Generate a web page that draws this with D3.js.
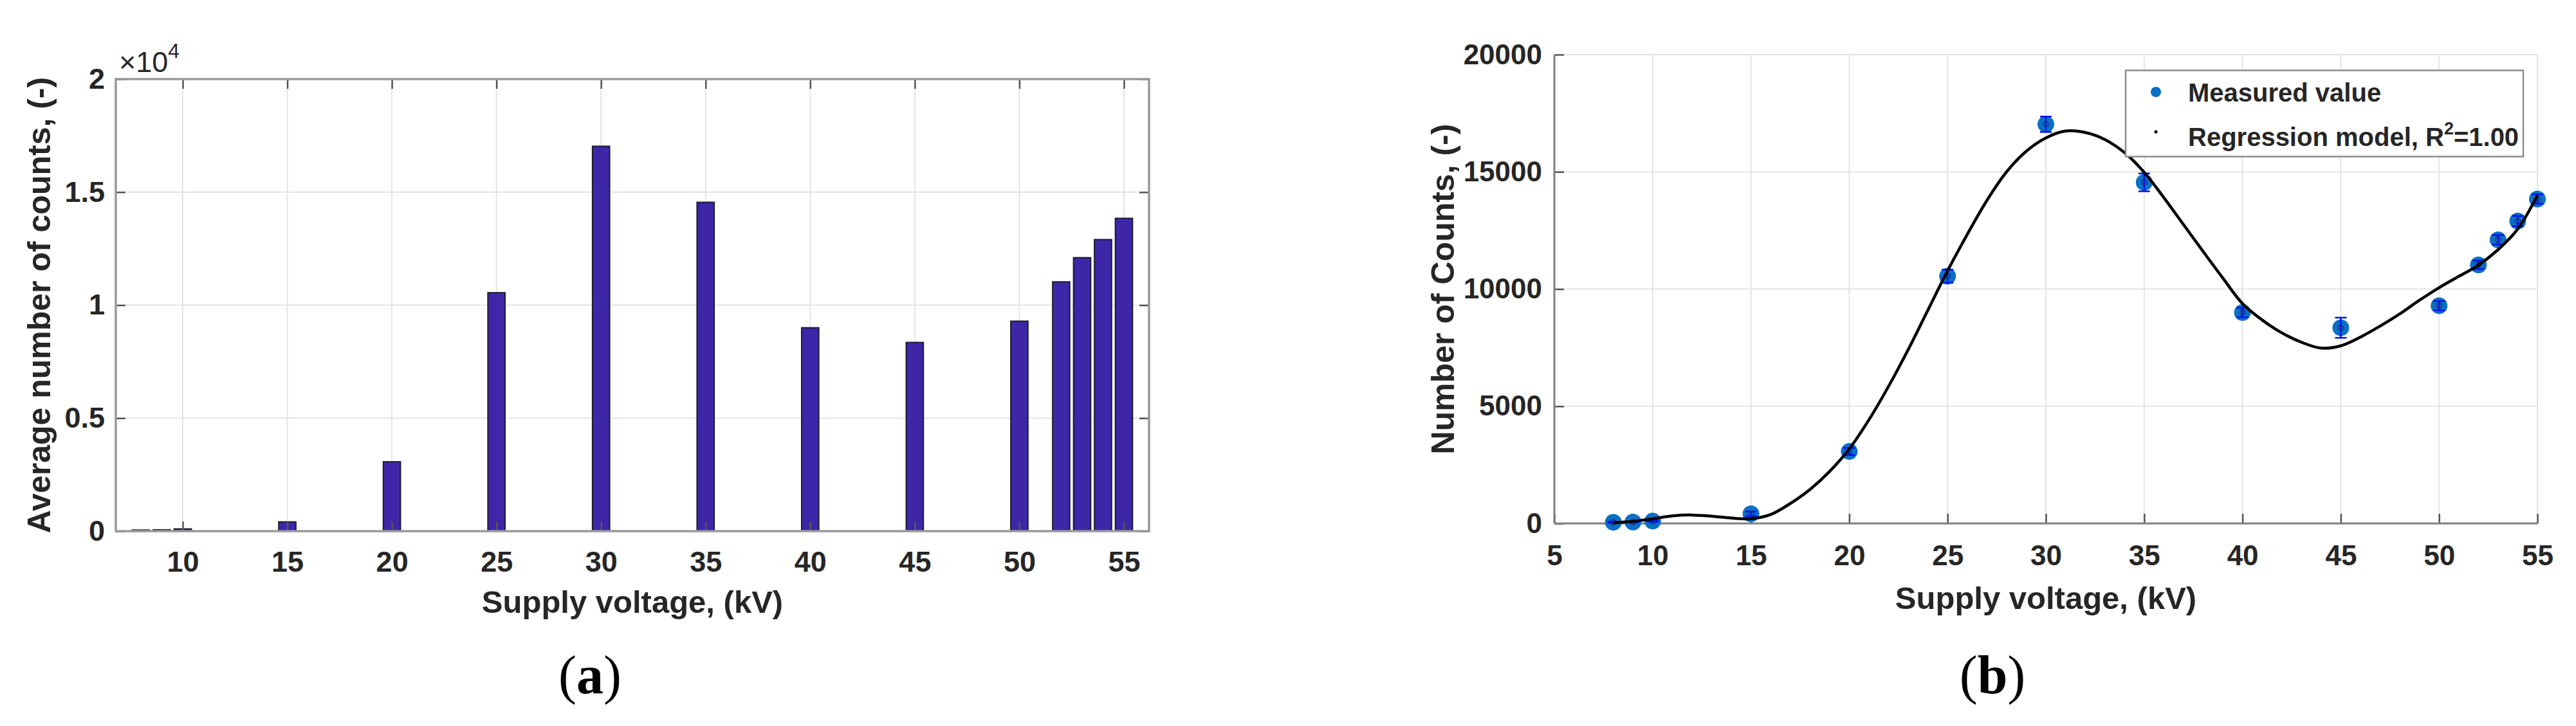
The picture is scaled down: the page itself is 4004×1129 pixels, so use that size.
<!DOCTYPE html>
<html lang="en">
<head>
<meta charset="UTF-8">
<title>Counts vs supply voltage</title>
<script src="https://d3js.org/d3.v7.min.js"></script>
<style>
    body { margin: 0; padding: 0; background: #fff; }
    svg { display: block; }
    .tick text { font-family: "Liberation Sans", Arial, sans-serif; font-weight: bold; fill: #262626; }
    .lbl { font-family: "Liberation Sans", Arial, sans-serif; font-weight: bold; fill: #262626; }
    .cap { font-family: "Liberation Serif", "Times New Roman", serif; fill: #000; }
</style>
</head>
<body>
<svg width="4004" height="1129"></svg>
<script>
// measured data (shared by both panels)
const voltages  = [8, 9, 10, 15, 20, 25, 30, 35, 40, 45, 50, 52, 53, 54, 55];
const avgCounts = [50, 60, 100, 410, 3070, 10550, 17030, 14550, 9000, 8350, 9290, 11030, 12100, 12900, 13840];
const countErr  = [20, 20, 30, 100, 150, 280, 330, 380, 200, 430, 200, 180, 200, 220, 200];

// regression curve
const fitVoltages = [8, 9, 10, 11, 12, 13, 14, 15, 16, 17, 18, 19, 20, 21, 22, 23, 24, 25, 26, 27, 28, 29, 30, 31,
                     32, 33, 34, 35, 36, 37, 38, 39, 40, 41, 42, 43, 44, 45, 46, 47, 48, 49, 50, 51, 52, 53, 54, 55];
const fitCounts = [30, 90, 200, 320, 360, 310, 230, 200, 380, 850, 1450, 2220, 3180, 4420, 5850, 7420, 9100, 10780,
                   12330, 13780, 15000, 15880, 16450, 16740, 16680, 16380, 15820, 14980, 13900, 12750, 11600, 10470,
                   9380, 8680, 8130, 7730, 7480, 7580, 7950, 8420, 8940, 9520, 10060, 10540, 11020, 11680, 12560, 14000];

// ticks
const barXTicks = [10, 15, 20, 25, 30, 35, 40, 45, 50, 55];
const barYTicks = [0, 5000, 10000, 15000, 20000];
const fitXTicks = [5, 10, 15, 20, 25, 30, 35, 40, 45, 50, 55];
const fitYTicks = [0, 5000, 10000, 15000, 20000];

const svg = d3.select("svg");

function styleTicks(sel, size) {
    sel.select(".domain").remove();
    sel.selectAll(".tick line").attr("stroke", "#555").attr("stroke-width", 2.5);
    sel.selectAll(".tick text").attr("font-size", size);
}

// ---------------- (a) bar chart ----------------
const A = {left: 180, right: 1786, top: 123, bottom: 826};
const xa = d3.scaleLinear().domain([6.8, 56.2]).range([A.left, A.right]);
const ya = d3.scaleLinear().domain([0, 20000]).range([A.bottom, A.top]);
const ga = svg.append("g");

ga.append("g").selectAll("line").data(barXTicks).join("line")
    .attr("x1", d => xa(d)).attr("x2", d => xa(d))
    .attr("y1", A.top).attr("y2", A.bottom)
    .attr("stroke", "#e4e4e4").attr("stroke-width", 2);
ga.append("g").selectAll("line").data(barYTicks.slice(1, -1)).join("line")
    .attr("x1", A.left).attr("x2", A.right)
    .attr("y1", d => ya(d)).attr("y2", d => ya(d))
    .attr("stroke", "#e4e4e4").attr("stroke-width", 2);

const bw = xa(0.82) - xa(0);
ga.append("g").selectAll("rect").data(voltages).join("rect")
    .attr("x", d => xa(d) - bw / 2)
    .attr("width", bw)
    .attr("y", (d, i) => ya(avgCounts[i]))
    .attr("height", (d, i) => ya(0) - ya(avgCounts[i]))
    .attr("fill", "#3E26A8")
    .attr("stroke", "#1c1c2e")
    .attr("stroke-width", 2);

ga.append("g").attr("transform", `translate(0,${A.bottom})`)
    .call(d3.axisBottom(xa).tickValues(barXTicks).tickSizeInner(-15).tickSizeOuter(0).tickPadding(31))
    .call(styleTicks, 45);
ga.append("g").attr("transform", `translate(0,${A.top})`)
    .call(d3.axisTop(xa).tickValues(barXTicks).tickSizeInner(-15).tickSizeOuter(0).tickFormat(""))
    .call(styleTicks, 45);
ga.append("g").attr("transform", `translate(${A.left},0)`)
    .call(d3.axisLeft(ya).tickValues(barYTicks).tickSizeInner(-15).tickSizeOuter(0).tickPadding(17)
        .tickFormat(d => d / 10000))
    .call(styleTicks, 45);
ga.append("g").attr("transform", `translate(${A.right},0)`)
    .call(d3.axisRight(ya).tickValues(barYTicks).tickSizeInner(-15).tickSizeOuter(0).tickFormat(""))
    .call(styleTicks, 45);

ga.append("rect")
    .attr("x", A.left).attr("y", A.top)
    .attr("width", A.right - A.left).attr("height", A.bottom - A.top)
    .attr("fill", "none").attr("stroke", "#9a9a9a").attr("stroke-width", 3.5);

const expo = ga.append("text")
    .attr("x", 185).attr("y", 112)
    .attr("font-family", '"Liberation Sans", Arial, sans-serif')
    .attr("font-size", 45).attr("fill", "#262626");
expo.append("tspan").text("\u00d710");
expo.append("tspan").attr("font-size", 32).attr("dy", -22).text("4");

ga.append("text").attr("class", "lbl")
    .attr("x", (A.left + A.right) / 2).attr("y", 953)
    .attr("text-anchor", "middle").attr("font-size", 49)
    .text("Supply voltage, (kV)");
ga.append("text").attr("class", "lbl")
    .attr("transform", `translate(78,${(A.top + A.bottom) / 2}) rotate(-90)`)
    .attr("text-anchor", "middle").attr("font-size", 50)
    .text("Average number of counts, (-)");

// ---------------- (b) scatter + regression ----------------
const B = {left: 2416, right: 3944, top: 85, bottom: 814};
const xb = d3.scaleLinear().domain([5, 55]).range([B.left, B.right]);
const yb = d3.scaleLinear().domain([0, 20000]).range([B.bottom, B.top]);
const gb = svg.append("g");

gb.append("g").selectAll("line").data(fitXTicks.slice(1)).join("line")
    .attr("x1", d => xb(d)).attr("x2", d => xb(d))
    .attr("y1", B.top).attr("y2", B.bottom)
    .attr("stroke", "#e4e4e4").attr("stroke-width", 2);
gb.append("g").selectAll("line").data(fitYTicks.slice(1)).join("line")
    .attr("x1", B.left).attr("x2", B.right)
    .attr("y1", d => yb(d)).attr("y2", d => yb(d))
    .attr("stroke", "#e4e4e4").attr("stroke-width", 2);

gb.append("g").attr("transform", `translate(0,${B.bottom})`)
    .call(d3.axisBottom(xb).tickValues(fitXTicks).tickSizeInner(-15).tickSizeOuter(0).tickPadding(34))
    .call(styleTicks, 44);
gb.append("g").attr("transform", `translate(${B.left},0)`)
    .call(d3.axisLeft(yb).tickValues(fitYTicks).tickSizeInner(-15).tickSizeOuter(0).tickPadding(19)
        .tickFormat(d3.format("d")))
    .call(styleTicks, 44);

gb.append("line")
    .attr("x1", B.left).attr("x2", B.right).attr("y1", B.bottom).attr("y2", B.bottom)
    .attr("stroke", "#808080").attr("stroke-width", 3);
gb.append("line")
    .attr("x1", B.left).attr("x2", B.left).attr("y1", B.top).attr("y2", B.bottom)
    .attr("stroke", "#808080").attr("stroke-width", 3);

const pts = voltages.map((v, i) => ({v: v, c: avgCounts[i], e: countErr[i]}));

const mk = gb.append("g").selectAll("g").data(pts).join("g");
mk.append("circle")
    .attr("cx", d => xb(d.v)).attr("cy", d => yb(d.c)).attr("r", 13)
    .attr("fill", "#0a6fc6");
mk.append("line")
    .attr("x1", d => xb(d.v)).attr("x2", d => xb(d.v))
    .attr("y1", d => yb(d.c - d.e)).attr("y2", d => yb(d.c + d.e))
    .attr("stroke", "#0010f0").attr("stroke-width", 2.5);
mk.selectAll(".capline").data(d => [[d.v, d.c - d.e], [d.v, d.c + d.e]]).join("line")
    .attr("class", "capline")
    .attr("x1", d => xb(d[0]) - 9).attr("x2", d => xb(d[0]) + 9)
    .attr("y1", d => yb(d[1])).attr("y2", d => yb(d[1]))
    .attr("stroke", "#0010f0").attr("stroke-width", 2.5);
mk.append("circle")
    .attr("cx", d => xb(d.v)).attr("cy", d => yb(d.c)).attr("r", 4)
    .attr("fill", "none").attr("stroke", "#1b2a6b").attr("stroke-width", 1.5);

const fitLine = d3.line()
    .x((d, i) => xb(fitVoltages[i]))
    .y(d => yb(d))
    .curve(d3.curveCatmullRom.alpha(0.5));
gb.append("path").datum(fitCounts)
    .attr("d", fitLine)
    .attr("fill", "none").attr("stroke", "#000").attr("stroke-width", 4.5);

gb.append("text").attr("class", "lbl")
    .attr("x", (B.left + B.right) / 2).attr("y", 947)
    .attr("text-anchor", "middle").attr("font-size", 49)
    .text("Supply voltage, (kV)");
gb.append("text").attr("class", "lbl")
    .attr("transform", `translate(2260,${(B.top + B.bottom) / 2}) rotate(-90)`)
    .attr("text-anchor", "middle").attr("font-size", 50)
    .text("Number of Counts, (-)");

// legend
const lg = gb.append("g");
lg.append("rect")
    .attr("x", 3304).attr("y", 109.5).attr("width", 618).attr("height", 134)
    .attr("fill", "#fff").attr("stroke", "#8c8c8c").attr("stroke-width", 2.5);
lg.append("circle").attr("cx", 3351).attr("cy", 143).attr("r", 8).attr("fill", "#0a6fc6");
lg.append("circle").attr("cx", 3351).attr("cy", 205).attr("r", 2.5).attr("fill", "#000");
lg.append("text").attr("class", "lbl").attr("fill", "#000")
    .attr("x", 3401).attr("y", 158).attr("font-size", 40)
    .text("Measured value");
const lt = lg.append("text").attr("class", "lbl").attr("fill", "#000")
    .attr("x", 3401).attr("y", 227).attr("font-size", 40);
lt.append("tspan").text("Regression model, R");
lt.append("tspan").attr("font-size", 27).attr("dy", -18).text("2");
lt.append("tspan").attr("dy", 18).text("=1.00");

// panel captions
[["a", 917], ["b", 3097]].forEach(([t, x]) => {
    const c = svg.append("text").attr("class", "cap")
        .attr("x", x).attr("y", 1078).attr("text-anchor", "middle").attr("font-size", 84);
    c.append("tspan").text("(");
    c.append("tspan").attr("font-weight", "bold").text(t);
    c.append("tspan").text(")");
});
</script>
</body>
</html>
